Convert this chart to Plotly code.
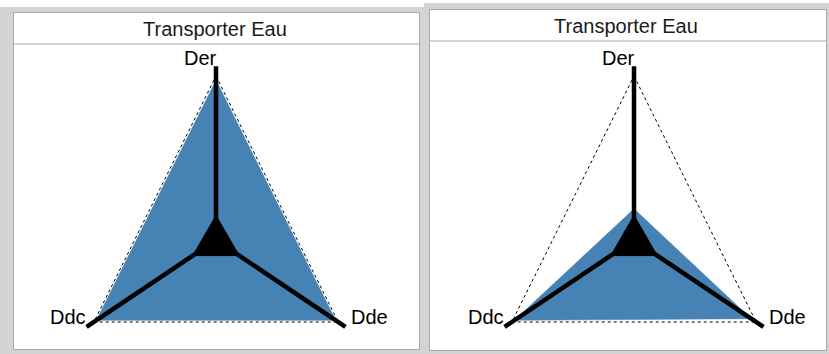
import numpy as np
import plotly.graph_objects as go

# --- data -------------------------------------------------------------
axis_names = ["Der", "Dde", "Ddc"]
axis_angles = [0, 120, 240]          # degrees, clockwise from the top
scale_max = [1.0, 1.0, 1.0]          # outer dotted frame
core_values = [0.15, 0.19, 0.19]     # black core triangle
panel_titles = ["Transporter Eau", "Transporter Eau"]
left_values = [0.975, 0.98, 0.98]
right_values = [0.19, 0.96, 0.98]
axis_length = 1.06

W, H = 829, 354
BLUE = "#4682B4"
FRAME_GRAY = "#d4d4d4"
EDGE_GRAY = "#a8a8a8"

KX, KY = 141.0, 164.0                # px per unit horizontally / vertically


def polar_xy(values, close=True):
    th = np.radians(axis_angles)
    r = np.asarray(values, dtype=float)
    x = r * np.sin(th)
    y = r * np.cos(th)
    if close:
        x = np.append(x, x[0])
        y = np.append(y, y[0])
    return x, y


def px(x):
    return x / W


def py(y):
    return 1 - y / H


panels = [
    dict(vals=left_values, title=panel_titles[0], box=(14, 13, 419, 349), header=44,
         center=(216, 240), frame=(0, 7, 424, 354), xa="x", ya="y"),
    dict(vals=right_values, title=panel_titles[1], box=(430, 10, 826, 350), header=41,
         center=(634, 240), frame=(424, 3, 829, 354), xa="x2", ya="y2"),
]

fig = go.Figure()
shapes = []
annotations = []
layout_axes = {}

for i, p in enumerate(panels):
    x0, y0, x1, y1 = p["box"]
    cx, cy = p["center"]
    fx0, fy0, fx1, fy1 = p["frame"]
    # grey window frame and white panel with a header band
    shapes.append(dict(type="rect", xref="paper", yref="paper", x0=px(fx0), x1=px(fx1),
                       y0=py(fy1), y1=py(fy0), fillcolor=FRAME_GRAY, line=dict(width=0),
                       layer="below"))
    shapes.append(dict(type="rect", xref="paper", yref="paper", x0=px(x0 - 0.5), x1=px(x1 + 0.5),
                       y0=py(y1 + 0.5), y1=py(y0 - 0.5), fillcolor="white",
                       line=dict(color=EDGE_GRAY, width=1), layer="below"))
    shapes.append(dict(type="line", xref="paper", yref="paper", x0=px(x0), x1=px(x1),
                       y0=py(p["header"]), y1=py(p["header"]),
                       line=dict(color=EDGE_GRAY, width=1), layer="below"))
    annotations.append(dict(xref="paper", yref="paper", x=px((x0 + x1) / 2 - 2),
                            y=py((y0 + p["header"]) / 2), text=p["title"], showarrow=False,
                            xanchor="center", yanchor="middle",
                            font=dict(family="Liberation Sans, Arial", size=20, color="#1a1a1a")))

    suffix = "" if i == 0 else str(i + 1)
    layout_axes["xaxis" + suffix] = dict(
        domain=[px(x0), px(x1)], range=[(x0 - cx) / KX, (x1 - cx) / KX],
        visible=False, fixedrange=True, anchor=p["ya"])
    layout_axes["yaxis" + suffix] = dict(
        domain=[py(y1), py(p["header"])], range=[(cy - y1) / KY, (cy - p["header"]) / KY],
        visible=False, fixedrange=True, anchor=p["xa"])

    # blue value area
    bx, by = polar_xy(p["vals"])
    fig.add_trace(go.Scatter(x=bx, y=by, mode="lines", fill="toself", fillcolor=BLUE,
                             line=dict(color=BLUE, width=0.5), hoverinfo="skip",
                             showlegend=False, xaxis=p["xa"], yaxis=p["ya"]))
    # dotted scale frame
    ox, oy = polar_xy(scale_max)
    fig.add_trace(go.Scatter(x=ox, y=oy, mode="lines", line=dict(color="black", width=1, dash="dot"),
                             hoverinfo="skip", showlegend=False, xaxis=p["xa"], yaxis=p["ya"]))
    # thick axis spokes
    tx, ty = polar_xy([axis_length] * 3, close=False)
    sx, sy = [], []
    for a, b in zip(tx, ty):
        sx += [0, a, None]
        sy += [0, b, None]
    fig.add_trace(go.Scatter(x=sx, y=sy, mode="lines", line=dict(color="black", width=4.5),
                             hoverinfo="skip", showlegend=False, xaxis=p["xa"], yaxis=p["ya"]))
    # black core triangle
    kx, ky = polar_xy(core_values)
    fig.add_trace(go.Scatter(x=kx, y=ky, mode="lines", fill="toself", fillcolor="black",
                             line=dict(color="black", width=1), hoverinfo="skip",
                             showlegend=False, xaxis=p["xa"], yaxis=p["ya"]))

    # axis labels at the spoke tips
    lab_font = dict(family="Liberation Sans, Arial", size=20, color="black")
    offsets = {"Der": dict(xanchor="right", yanchor="middle", xshift=3, yshift=8),
               "Dde": dict(xanchor="left", yanchor="middle", xshift=4, yshift=10),
               "Ddc": dict(xanchor="right", yanchor="middle", xshift=1, yshift=10)}
    for name, a, b in zip(axis_names, tx, ty):
        annotations.append(dict(xref=p["xa"], yref=p["ya"], x=a, y=b, text=name,
                                showarrow=False, font=lab_font, **offsets[name]))

fig.update_layout(width=W, height=H, margin=dict(l=0, r=0, t=0, b=0),
                  paper_bgcolor="white", plot_bgcolor="rgba(0,0,0,0)",
                  shapes=shapes, annotations=annotations, **layout_axes)

fig.write_html("out.html", config={"displayModeBar": False})
